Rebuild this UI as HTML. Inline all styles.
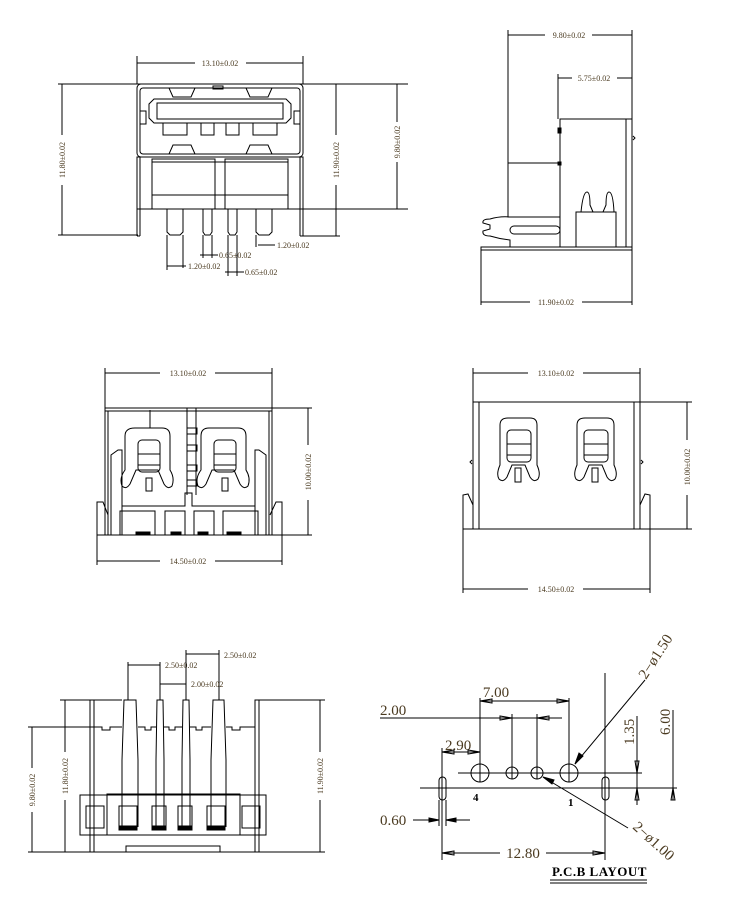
<!DOCTYPE html>
<html><head><meta charset="utf-8"><style>
html,body{margin:0;padding:0;background:#fff;width:750px;height:900px;overflow:hidden}
svg{display:block}
text{font-family:"Liberation Serif",serif;fill:#4a3a20}
.s{font-size:8px}
.b{font-size:15px}
</style></head><body>
<svg width="750" height="900" viewBox="0 0 750 900" xmlns="http://www.w3.org/2000/svg" fill="none" stroke="#000" stroke-width="1">
<!-- ===== VIEW 1 ===== -->
<line x1="137" y1="56" x2="137" y2="84"/><line x1="303" y1="56" x2="303" y2="84"/>
<line x1="137" y1="63" x2="195" y2="63"/><line x1="246" y1="63" x2="303" y2="63"/>
<text class="s" x="220" y="66" text-anchor="middle" stroke="none">13.10±0.02</text>
<line x1="58" y1="84" x2="408" y2="84"/>
<rect x="137" y="84" width="166" height="73" rx="4"/>
<rect x="140" y="88" width="160" height="66" rx="3"/>
<path d="M154 99 H286 L291 104 V118 L286 123 H154 L149 118 V104 Z"/>
<rect x="157" y="103" width="126" height="16"/>
<rect x="163" y="123" width="24" height="12"/><rect x="201" y="123" width="13" height="12"/><rect x="226" y="123" width="13" height="12"/><rect x="253" y="123" width="24" height="12"/>
<path d="M169 88 L173 97 H191 L195 88"/><path d="M246 88 L250 97 H268 L272 88"/>
<path d="M169 154 L173 145 H191 L195 154"/><path d="M246 154 L250 145 H268 L272 154"/>
<rect x="213" y="86" width="10" height="3"/>
<rect x="140" y="111" width="6" height="13"/><rect x="294" y="111" width="6" height="13"/>
<rect x="137" y="157" width="166" height="52"/>
<rect x="152" y="159" width="63" height="50"/><rect x="225" y="159" width="63" height="50"/>
<line x1="152" y1="162" x2="288" y2="162"/><line x1="152" y1="195" x2="288" y2="195"/>
<line x1="140" y1="157" x2="140" y2="236"/><line x1="137" y1="157" x2="137" y2="236"/><line x1="137" y1="236" x2="140" y2="236"/>
<line x1="300" y1="157" x2="300" y2="236"/><line x1="303" y1="157" x2="303" y2="236"/><line x1="300" y1="236" x2="303" y2="236"/>
<path d="M167 209 V232 L170 235 H180 L183 232 V209"/><path d="M203 209 V232 L205 235 H210 L212 232 V209"/>
<path d="M228 209 V232 L230 235 H235 L237 232 V209"/><path d="M256 209 V232 L259 235 H269 L272 232 V209"/>
<line x1="62" y1="84" x2="62" y2="135"/><line x1="62" y1="185" x2="62" y2="235"/><line x1="58" y1="235" x2="138" y2="235"/>
<text class="s" transform="translate(65,160) rotate(-90)" text-anchor="middle" stroke="none">11.80±0.02</text>
<line x1="336" y1="84" x2="336" y2="135"/><line x1="336" y1="185" x2="336" y2="236"/><line x1="303" y1="236" x2="340" y2="236"/>
<text class="s" transform="translate(339,160) rotate(-90)" text-anchor="middle" stroke="none">11.90±0.02</text>
<line x1="397" y1="84" x2="397" y2="122"/><line x1="397" y1="162" x2="397" y2="209"/><line x1="303" y1="209" x2="408" y2="209"/>
<text class="s" transform="translate(400,142) rotate(-90)" text-anchor="middle" stroke="none">9.80±0.02</text>
<line x1="256" y1="235" x2="256" y2="247"/><line x1="258" y1="245" x2="275" y2="245"/>
<text class="s" x="277" y="248" stroke="none">1.20±0.02</text>
<line x1="203" y1="235" x2="203" y2="258"/><line x1="212" y1="235" x2="212" y2="258"/><line x1="200" y1="255" x2="218" y2="255"/>
<text class="s" x="219" y="258" stroke="none">0.65±0.02</text>
<line x1="167" y1="235" x2="167" y2="270"/><line x1="183" y1="235" x2="183" y2="268"/><line x1="167" y1="266" x2="186" y2="266"/>
<text class="s" x="188" y="269" stroke="none">1.20±0.02</text>
<line x1="228" y1="235" x2="228" y2="276"/><line x1="237" y1="235" x2="237" y2="276"/><line x1="225" y1="272" x2="244" y2="272"/>
<text class="s" x="245" y="275" stroke="none">0.65±0.02</text>
<!-- ===== VIEW 2 ===== -->
<line x1="508" y1="30" x2="508" y2="163"/><line x1="632" y1="30" x2="632" y2="305"/>
<line x1="508" y1="35" x2="545" y2="35"/><line x1="592" y1="35" x2="632" y2="35"/>
<text class="s" x="569" y="38" text-anchor="middle" stroke="none">9.80±0.02</text>
<line x1="558" y1="74" x2="558" y2="119"/><line x1="558" y1="78" x2="572" y2="78"/><line x1="617" y1="78" x2="632" y2="78"/>
<text class="s" x="594" y="81" text-anchor="middle" stroke="none">5.75±0.02</text>
<rect x="560" y="119" width="72" height="128"/><line x1="626" y1="119" x2="626" y2="247"/>
<rect x="558" y="128" width="3" height="5" fill="#000"/><rect x="558" y="162" width="3" height="3" fill="#000"/>
<path d="M633 136 L635 138 L633 140"/>
<rect x="508" y="163" width="52" height="54"/>
<path d="M560 217 H510 Q500 216 490 219 Q482 219 483 223 L490 225 L490 229 L483 231 Q482 236 490 236 Q500 239 510 240 V247"/>
<rect x="510" y="226" width="50" height="8" rx="4"/>
<rect x="576" y="212" width="40" height="35"/>
<path d="M581 212 Q583 192 587 192 Q590 192 590 205 L593 212 M603 212 L606 205 Q606 192 609 192 Q613 192 614 212"/>
<rect x="481" y="247" width="151" height="3"/>
<line x1="481" y1="247" x2="481" y2="305"/>
<line x1="481" y1="302" x2="530" y2="302"/><line x1="582" y1="302" x2="632" y2="302"/>
<text class="s" x="556" y="305" text-anchor="middle" stroke="none">11.90±0.02</text>
<!-- ===== VIEW 3 ===== -->
<line x1="105" y1="368" x2="105" y2="408"/><line x1="272" y1="368" x2="272" y2="408"/>
<line x1="105" y1="373" x2="160" y2="373"/><line x1="215" y1="373" x2="272" y2="373"/>
<text class="s" x="188" y="376" text-anchor="middle" stroke="none">13.10±0.02</text>
<line x1="105" y1="408" x2="312" y2="408"/><rect x="105" y="408" width="167" height="3"/>
<line x1="105" y1="408" x2="105" y2="535"/><line x1="272" y1="408" x2="272" y2="535"/>
<line x1="108" y1="411" x2="108" y2="535"/><line x1="269" y1="411" x2="269" y2="535"/>
<line x1="97" y1="535" x2="312" y2="535"/>
<path d="M97 535 V502 L103 502 L108 515"/><path d="M282 535 V502 L276 502 L270 515"/>
<path d="M111 535 V455 L118 450 H122 V535"/><path d="M266 535 V455 L259 450 H255 V535"/>
<path d="M150 410 V428 M135 428 H162 Q170 428 170 436 V470 Q175 478 172 486 Q168 490 164 484 L158 470 H136 L130 484 Q126 490 122 486 Q119 478 125 470 V436 Q125 428 135 428"/>
<rect x="138" y="440" width="22" height="32" rx="4"/><line x1="138" y1="454" x2="160" y2="454"/><line x1="138" y1="465" x2="160" y2="465"/>
<rect x="146" y="478" width="6" height="13"/>
<path d="M215 428 H238 Q246 428 246 436 V470 Q251 478 248 486 Q244 490 240 484 L234 470 H212 L206 484 Q202 490 198 486 Q195 478 201 470 V436 Q201 428 209 428 Z"/>
<rect x="214" y="440" width="22" height="32" rx="4"/><line x1="214" y1="454" x2="236" y2="454"/><line x1="214" y1="465" x2="236" y2="465"/>
<rect x="222" y="478" width="6" height="13"/>
<path d="M187 408 V495 M196 408 V495 M187 428 h10 v6 h-10 z M187 445 h10 v6 h-10 z M187 465 h10 v6 h-10 z M187 480 h10 v6 h-10 z"/>
<path d="M122 506 H185 V493 H192 V506 H255"/>
<rect x="120" y="511" width="35" height="24"/><rect x="165" y="511" width="20" height="24"/><rect x="194" y="511" width="20" height="24"/><rect x="223" y="511" width="35" height="24"/>
<rect x="136" y="532" width="14" height="3" fill="#000"/><rect x="171" y="532" width="10" height="3" fill="#000"/><rect x="198" y="532" width="10" height="3" fill="#000"/><rect x="227" y="532" width="14" height="3" fill="#000"/>
<line x1="97" y1="535" x2="97" y2="565"/><line x1="282" y1="535" x2="282" y2="565"/>
<line x1="97" y1="561" x2="160" y2="561"/><line x1="215" y1="561" x2="282" y2="561"/>
<text class="s" x="188" y="564" text-anchor="middle" stroke="none">14.50±0.02</text>
<line x1="308" y1="408" x2="308" y2="445"/><line x1="308" y1="500" x2="308" y2="535"/>
<text class="s" transform="translate(311,472) rotate(-90)" text-anchor="middle" stroke="none">10.00±0.02</text>
<!-- ===== VIEW 4 ===== -->
<line x1="473" y1="368" x2="473" y2="402"/><line x1="640" y1="368" x2="640" y2="402"/>
<line x1="473" y1="373" x2="528" y2="373"/><line x1="583" y1="373" x2="640" y2="373"/>
<text class="s" x="556" y="376" text-anchor="middle" stroke="none">13.10±0.02</text>
<rect x="473" y="402" width="167" height="127"/>
<line x1="479" y1="402" x2="479" y2="529"/><line x1="634" y1="402" x2="634" y2="529"/>
<line x1="640" y1="402" x2="692" y2="402"/><line x1="640" y1="529" x2="692" y2="529"/>
<path d="M463 529 V495 L468 494 L473 505"/><path d="M650 529 V495 L645 494 L640 505"/>
<path d="M472 460 l-2 2 l2 2"/><path d="M641 460 l2 2 l-2 2"/>
<path d="M508 418 H530 Q537 418 537 425 V465 Q541 474 538 479 Q534 483 530 477 L525 465 H512 L507 477 Q503 483 499 479 Q496 474 500 465 V425 Q500 418 508 418 Z"/>
<rect x="507" y="430" width="24" height="32" rx="4"/><line x1="507" y1="444" x2="531" y2="444"/><line x1="507" y1="455" x2="531" y2="455"/>
<rect x="515" y="468" width="6" height="14"/>
<path d="M585 418 H607 Q614 418 614 425 V465 Q618 474 615 479 Q611 483 607 477 L602 465 H589 L584 477 Q580 483 576 479 Q573 474 577 465 V425 Q577 418 585 418 Z"/>
<rect x="584" y="430" width="24" height="32" rx="4"/><line x1="584" y1="444" x2="608" y2="444"/><line x1="584" y1="455" x2="608" y2="455"/>
<rect x="592" y="468" width="6" height="14"/>
<line x1="463" y1="529" x2="650" y2="529"/>
<line x1="463" y1="529" x2="463" y2="593"/><line x1="650" y1="529" x2="650" y2="593"/>
<line x1="463" y1="589" x2="528" y2="589"/><line x1="583" y1="589" x2="650" y2="589"/>
<text class="s" x="556" y="592" text-anchor="middle" stroke="none">14.50±0.02</text>
<line x1="687" y1="402" x2="687" y2="440"/><line x1="687" y1="495" x2="687" y2="529"/>
<text class="s" transform="translate(690,467) rotate(-90)" text-anchor="middle" stroke="none">10.00±0.02</text>
<!-- ===== VIEW 5 ===== -->
<line x1="128" y1="662" x2="128" y2="700"/><line x1="128" y1="665" x2="160" y2="665"/><line x1="160" y1="662" x2="160" y2="700"/>
<text class="s" x="165" y="668" stroke="none">2.50±0.02</text>
<line x1="186" y1="650" x2="186" y2="700"/><line x1="186" y1="654" x2="219" y2="654"/><line x1="219" y1="650" x2="219" y2="700"/>
<text class="s" x="224" y="658" stroke="none">2.50±0.02</text>
<line x1="160" y1="684" x2="186" y2="684"/>
<text class="s" x="191" y="687" stroke="none">2.00±0.02</text>
<path d="M122 827 V760 L124 700 H136 L138 760 V827"/>
<path d="M156 827 V760 L157 700 H163 L164 760 V827"/>
<path d="M182 827 V760 L183 700 H189 L190 760 V827"/>
<path d="M211 827 V760 L213 700 H224 L226 760 V827"/>
<path d="M90 852 V700 H94 V852 M255 852 V700 H259 V852"/>
<path d="M94 727 H102 V730 H110 V727 H122 M138 727 H145 V730 H151 V727 H156 M164 727 H169 V730 H175 V727 H182 M190 727 H196 V730 H202 V727 H211 M226 727 H232 V730 H240 V727 H255"/>
<rect x="80" y="795" width="186" height="40"/>
<rect x="107" y="794" width="133" height="41"/>
<rect x="86" y="806" width="18" height="22"/><rect x="242" y="806" width="18" height="22"/>
<rect x="119" y="806" width="18" height="24"/><rect x="152" y="806" width="14" height="24"/><rect x="178" y="806" width="14" height="24"/><rect x="207" y="806" width="18" height="24"/>
<rect x="119" y="826" width="18" height="4" fill="#000"/><rect x="152" y="826" width="14" height="4" fill="#000"/><rect x="178" y="826" width="14" height="4" fill="#000"/><rect x="207" y="826" width="18" height="4" fill="#000"/>
<line x1="28" y1="852" x2="325" y2="852"/><rect x="126" y="846" width="94" height="6"/>
<line x1="60" y1="700" x2="122" y2="700"/><line x1="259" y1="700" x2="325" y2="700"/><line x1="28" y1="727" x2="100" y2="727"/>
<line x1="32" y1="727" x2="32" y2="768"/><line x1="32" y1="812" x2="32" y2="852"/>
<text class="s" transform="translate(35,790) rotate(-90)" text-anchor="middle" stroke="none">9.80±0.02</text>
<line x1="65" y1="700" x2="65" y2="752"/><line x1="65" y1="800" x2="65" y2="852"/>
<text class="s" transform="translate(68,776) rotate(-90)" text-anchor="middle" stroke="none">11.80±0.02</text>
<line x1="320" y1="700" x2="320" y2="752"/><line x1="320" y1="800" x2="320" y2="852"/>
<text class="s" transform="translate(323,776) rotate(-90)" text-anchor="middle" stroke="none">11.90±0.02</text>
<!-- ===== PCB ===== -->
<text class="b" x="496" y="697" text-anchor="middle" stroke="none">7.00</text>
<line x1="480" y1="698" x2="480" y2="773"/><line x1="569" y1="698" x2="569" y2="773"/>
<line x1="480" y1="701" x2="569" y2="701"/>
<path d="M480 701 l12 -2 v4 z M569 701 l-12 -2 v4 z"/>
<text class="b" x="380" y="715" stroke="none">2.00</text>
<line x1="380" y1="718" x2="562" y2="718"/>
<line x1="512" y1="714" x2="512" y2="773"/><line x1="537" y1="714" x2="537" y2="773"/>
<path d="M512 718 l-12 -2 v4 z M537 718 l12 -2 v4 z"/>
<text class="b" x="445" y="750" stroke="none">2.90</text>
<line x1="442" y1="748" x2="442" y2="860"/><line x1="442" y1="752" x2="480" y2="752"/>
<path d="M442 752 l12 -2 v4 z M480 752 l-12 -2 v4 z"/>
<line x1="458" y1="773" x2="642" y2="773"/>
<line x1="420" y1="788" x2="677" y2="788"/>
<circle cx="480" cy="773" r="9"/><line x1="480" y1="764" x2="480" y2="782"/>
<circle cx="512" cy="773" r="6"/><line x1="512" y1="767" x2="512" y2="779"/>
<circle cx="537" cy="773" r="6"/><line x1="537" y1="767" x2="537" y2="779"/>
<circle cx="569" cy="773" r="9"/><line x1="569" y1="764" x2="569" y2="782"/>
<rect x="439" y="777" width="7" height="23" rx="3.5"/>
<rect x="602" y="777" width="7" height="23" rx="3.5"/>
<line x1="605" y1="673" x2="605" y2="860"/>
<text x="473" y="801" font-size="11" font-weight="bold" stroke="none" style="fill:#000">4</text>
<text x="568" y="806" font-size="11" font-weight="bold" stroke="none" style="fill:#000">1</text>
<text class="b" x="380" y="825" stroke="none">0.60</text>
<line x1="413" y1="820" x2="439" y2="820"/><line x1="446" y1="820" x2="470" y2="820"/>
<line x1="439" y1="800" x2="439" y2="826"/><line x1="446" y1="800" x2="446" y2="826"/>
<path d="M439 820 l-10 -2 v4 z M446 820 l10 -2 v4 z" fill="#000"/>
<line x1="442" y1="853" x2="500" y2="853"/><line x1="546" y1="853" x2="605" y2="853"/>
<path d="M442 853 l12 -2 v4 z M605 853 l-12 -2 v4 z"/>
<text class="b" x="523" y="858" text-anchor="middle" stroke="none">12.80</text>
<text x="552" y="876" font-size="13" font-weight="bold" stroke="none" style="fill:#000;letter-spacing:0.5px">P.C.B  LAYOUT</text>
<line x1="550" y1="880" x2="647" y2="880"/><line x1="550" y1="883" x2="647" y2="883"/>
<line x1="637" y1="716" x2="637" y2="805"/><path d="M637 773 l-2 -12 h4 z M637 788 l-2 12 h4 z"/>
<text class="b" transform="translate(634,745) rotate(-90)" stroke="none">1.35</text>
<line x1="673" y1="710" x2="673" y2="800"/><path d="M673 788 l-2 12 h4 z"/>
<text class="b" transform="translate(670,735) rotate(-90)" stroke="none">6.00</text>
<line x1="575" y1="764" x2="645" y2="680"/><path d="M575 764 l4 -11 l4 3 z" fill="#000"/>
<text class="b" transform="translate(646,680) rotate(-57)" stroke="none">2−ø1.50</text>
<line x1="543" y1="777" x2="628" y2="828"/><path d="M543 777 l11 3 l-2 4 z" fill="#000"/>
<text class="b" transform="translate(632,828) rotate(42)" stroke="none">2−ø1.00</text>
</svg>
</body></html>
